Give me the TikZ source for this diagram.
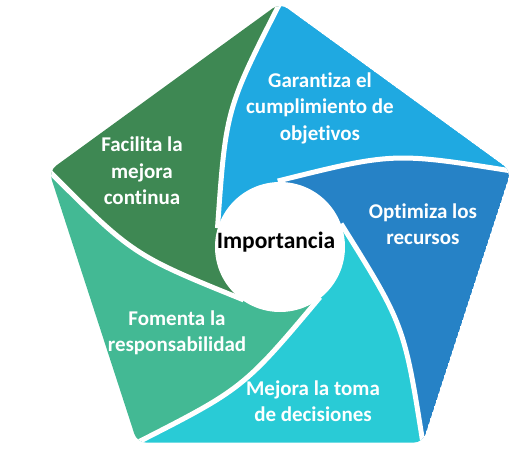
\documentclass[tikz,border=0pt]{standalone}
\usepackage{fontspec}
\setmainfont{Carlito}[Ligatures={NoCommon}]
\definecolor{cBlue}{HTML}{1FA9E1}
\definecolor{cDark}{HTML}{2682C6}
\definecolor{cCyan}{HTML}{29CBD6}
\definecolor{cTeal}{HTML}{43B994}
\definecolor{cGreen}{HTML}{3E8853}
\begin{document}
\begin{tikzpicture}[x=1pt,y=1pt,
  lbl/.style={text=white, font=\bfseries\fontsize{21}{26.5}\selectfont, align=center},
  divider/.style={white, line width=5pt, looseness=1.3}]
\def\R{243}\def\r{65}
\useasboundingbox (-280,-217) rectangle (247,246);
\begin{scope}
\clip[rounded corners=9] (90:\R) -- (18:\R) -- (-54:\R) -- (-126:\R) -- (162:\R) -- cycle;
\foreach \a/\col in {90/cBlue, 18/cDark, -54/cCyan, -126/cTeal, 162/cGreen} {
  \pgfmathsetmacro\b{\a-72}
  \fill[\col, looseness=1.3] (\a:\R) -- (\b:\R) to[out=\b+153, in=\b-4] (\b+74:\r) -- (0,0) -- (\a+74:\r) to[out=\a-4, in=\a+153] (\a:\R) -- cycle;
}
\foreach \a in {90,18,-54,-126,162} {
  \draw[divider] (\a:\R) to[out=\a+153, in=\a-4] (\a+74:\r);
}
\end{scope}
\fill[white] (0,-1) circle (\r);
\node[font=\bfseries\fontsize{23.5}{28}\selectfont] (imp) at (-4,4) {Importancia};
\node[lbl] (l1) at (40,138) {Garantiza el\\cumplimiento de\\objetivos};
\node[lbl] (l2) at (143,22) {Optimiza los\\recursos};
\node[lbl] (l3) at (33,-155) {Mejora la toma\\de decisiones};
\node[lbl] (l4) at (-103,-87) {Fomenta la\\responsabilidad};
\node[lbl] (l5) at (-138,75) {Facilita la\\mejora\\continua};
\end{tikzpicture}
\end{document}
